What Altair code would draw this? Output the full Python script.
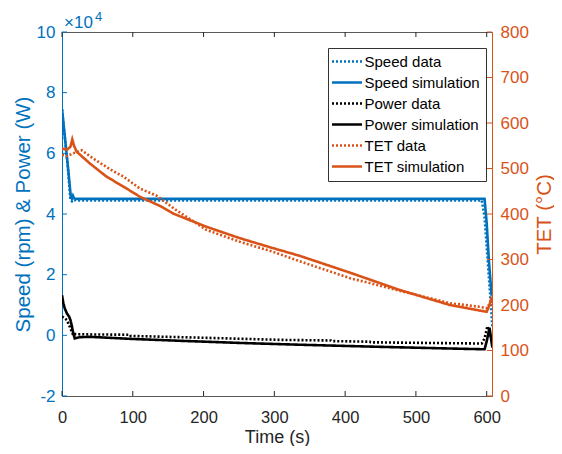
import altair as alt
import pandas as pd

# ---------------- data (speed/power in units of 1e4, TET in degC) ----------------
speed_data_t = [0, 4, 8, 12, 14, 16, 20, 300, 593, 597, 601, 605, 608]
speed_data = [7.45, 6.5, 5.6, 4.45, 4.42, 4.47, 4.45, 4.45, 4.45, 3.9, 2.6, 1.3, 0.3]

speed_sim_t = [0, 4, 8, 12.5, 14, 15.5, 17, 20, 300, 597, 600, 603, 607]
speed_sim = [7.46, 6.55, 5.65, 4.55, 4.5, 4.6, 4.52, 4.5, 4.5, 4.5, 3.7, 2.5, 1.3]

power_data_t = [0, 3, 7, 11, 14, 16, 18, 40, 96, 97, 200, 310, 380, 381, 435, 436,
                593, 597, 601, 604, 608]
power_data = [0.62, 0.58, 0.5, 0.28, 0.1, 0.0, 0.04, 0.03, 0.02, -0.02, -0.08, -0.15,
              -0.17, -0.19, -0.21, -0.23, -0.27, -0.1, 0.3, 0.1, -0.3]

power_sim_t = [0, 2, 4, 7, 10, 12, 14, 16, 18, 25, 40, 100, 167, 250, 336, 450, 540,
               597, 600, 604, 608]
power_sim = [1.32, 1.05, 0.88, 0.72, 0.62, 0.5, 0.3, 0.05, -0.1, -0.06, -0.05, -0.12,
             -0.18, -0.25, -0.31, -0.38, -0.43, -0.46, -0.2, 0.25, -0.4]

tet_data_t = [0, 7, 15, 28, 44, 68, 87, 110, 134, 160, 204, 251, 298, 336, 407, 460,
              548, 590, 600, 604, 607]
tet_data = [530, 527, 533, 540, 522, 498, 482, 456, 440, 410, 365, 339, 317, 296, 259,
            238, 204, 196, 193, 200, 207]

tet_sim_t = [0, 7, 12, 14.5, 17, 20.7, 30, 39.5, 63, 87, 110, 138, 157, 204, 251, 298,
             336, 407, 477, 548, 600, 604, 607]
tet_sim = [544, 541, 548, 564, 550, 537, 524, 511, 482, 460, 438, 418, 401, 372, 347,
           325, 308, 271, 233, 200, 185, 200, 218]

series_names = ["Speed data", "Speed simulation", "Power data", "Power simulation",
                "TET data", "TET simulation"]
series_colors = ["#0072BD", "#0072BD", "#000000", "#000000", "#D95319", "#D95319"]
series_dash = [[2, 2], [1, 0], [2, 2], [1, 0], [2, 2], [1, 0]]

x_ticks = [0, 100, 200, 300, 400, 500, 600]
left_ticks = [-2, 0, 2, 4, 6, 8, 10]
right_ticks = [0, 100, 200, 300, 400, 500, 600, 700, 800]

BLUE = "#0072BD"
ORANGE = "#D95319"
GREY = "#262626"
FONT = "Liberation Sans"
W, H = 430, 364


def frame(t, v, name):
    return pd.DataFrame({"t": t, "v": v, "series": name})


left_df = pd.concat([
    frame(speed_data_t, speed_data, "Speed data"),
    frame(speed_sim_t, speed_sim, "Speed simulation"),
    frame(power_data_t, power_data, "Power data"),
    frame(power_sim_t, power_sim, "Power simulation"),
], ignore_index=True)
right_df = pd.concat([
    frame(tet_data_t, tet_data, "TET data"),
    frame(tet_sim_t, tet_sim, "TET simulation"),
], ignore_index=True)

x_scale = alt.Scale(domain=[0, 607.5], nice=False, zero=False)
yl_scale = alt.Scale(domain=[-2, 10], nice=False)
yr_scale = alt.Scale(domain=[0, 800], nice=False)

x_axis = alt.Axis(values=x_ticks, title="Time (s)", tickSize=0, labelPadding=13.5,
                  domainColor="#5a5a5a", labelColor=GREY, titleColor=GREY,
                  labelFontSize=16.5, titleFontSize=18, labelFont=FONT, titleFont=FONT,
                  titleFontWeight="normal", grid=False, labelFlush=False,
                  titleX=W / 2, titleY=46.5, titleBaseline="alphabetic")
yl_axis = alt.Axis(values=left_ticks, orient="left", title="Speed (rpm) & Power (W)",
                   tickSize=0, labelPadding=7, domainColor=BLUE, labelColor=BLUE,
                   titleColor=BLUE, labelFontSize=17, titleFontSize=20.5, labelFont=FONT,
                   titleFont=FONT, titleFontWeight="normal", grid=False, labelFlush=False,
                   labelExpr="'' + datum.value", titleAngle=-90, titleX=-33, titleY=H / 2,
                   titleBaseline="alphabetic", titleAlign="center")
yr_axis = alt.Axis(values=right_ticks, orient="right", title="TET (°C)",
                   tickSize=0, labelPadding=8, domainColor=ORANGE, labelColor=ORANGE,
                   titleColor=ORANGE, labelFontSize=17, titleFontSize=20.5, labelFont=FONT,
                   titleFont=FONT, titleFontWeight="normal", grid=False, labelFlush=False,
                   titleAngle=-90, titleX=58, titleY=H / 2, titleBaseline="alphabetic",
                   titleAlign="center")

legend = alt.Legend(title=None, orient="none", legendX=266, legendY=16,
                    symbolType="M-3,0H3", symbolSize=100, symbolStrokeWidth=2.6,
                    symbolOffset=5.5, labelOffset=10, rowPadding=5, padding=6,
                    labelFont=FONT, labelFontSize=15, labelColor="#000000",
                    strokeColor="#333333", fillColor="white", labelLimit=300)

color_enc = alt.Color("series:N", scale=alt.Scale(domain=series_names, range=series_colors),
                      legend=legend)
dash_enc = alt.StrokeDash("series:N", scale=alt.Scale(domain=series_names, range=series_dash),
                          legend=legend)

left_lines = alt.Chart(left_df).mark_line(strokeWidth=2.6, clip=True).encode(
    x=alt.X("t:Q", scale=x_scale, axis=x_axis),
    y=alt.Y("v:Q", scale=yl_scale, axis=yl_axis),
    color=color_enc,
    strokeDash=dash_enc,
    order="idx:Q",
).transform_window(idx="row_number()", groupby=["series"])

right_lines = alt.Chart(right_df).mark_line(strokeWidth=2.6, clip=True).encode(
    x=alt.X("t:Q", scale=x_scale, axis=x_axis),
    y=alt.Y("v:Q", scale=yr_scale, axis=yr_axis),
    color=color_enc,
    strokeDash=dash_enc,
    order="idx:Q",
).transform_window(idx="row_number()", groupby=["series"])

left_tick_marks = alt.Chart(pd.DataFrame({"v": left_ticks})).mark_rule(
    color=BLUE, strokeWidth=1).encode(
    y=alt.Y("v:Q", scale=yl_scale, axis=yl_axis),
    x=alt.value(0), x2=alt.value(5))

right_tick_marks = alt.Chart(pd.DataFrame({"v": right_ticks})).mark_rule(
    color=ORANGE, strokeWidth=1).encode(
    y=alt.Y("v:Q", scale=yr_scale, axis=yr_axis),
    x=alt.value(W), x2=alt.value(W - 5))

xdf = pd.DataFrame({"t": x_ticks})
bottom_ticks = alt.Chart(xdf).mark_rule(color=GREY, strokeWidth=1).encode(
    x=alt.X("t:Q", scale=x_scale, axis=x_axis), y=alt.value(H), y2=alt.value(H - 5))
top_ticks = alt.Chart(xdf).mark_rule(color=GREY, strokeWidth=1).encode(
    x=alt.X("t:Q", scale=x_scale, axis=x_axis), y=alt.value(0), y2=alt.value(5))

exp_base = alt.Chart(pd.DataFrame({"label": ["×10"]})).mark_text(
    font=FONT, fontSize=17, color=BLUE, align="left", baseline="alphabetic").encode(
    text="label:N", x=alt.value(2), y=alt.value(-4.5))
exp_pow = alt.Chart(pd.DataFrame({"label": ["4"]})).mark_text(
    font=FONT, fontSize=13, color=BLUE, align="left", baseline="alphabetic").encode(
    text="label:N", x=alt.value(33), y=alt.value(-11))

left_layer = alt.layer(left_lines, left_tick_marks)
right_layer = alt.layer(right_lines, right_tick_marks)

chart = alt.layer(
    left_layer, right_layer, bottom_ticks, top_ticks, exp_base, exp_pow
).resolve_scale(y="independent").properties(
    width=W, height=H,
    padding={"left": 54, "top": 24, "right": 62, "bottom": 50},
    autosize=alt.AutoSizeParams(type="none"),
    background="white",
).configure_view(stroke="#5a5a5a", strokeWidth=1)

chart.save("out.html", embed_options={"renderer": "svg", "actions": False})
